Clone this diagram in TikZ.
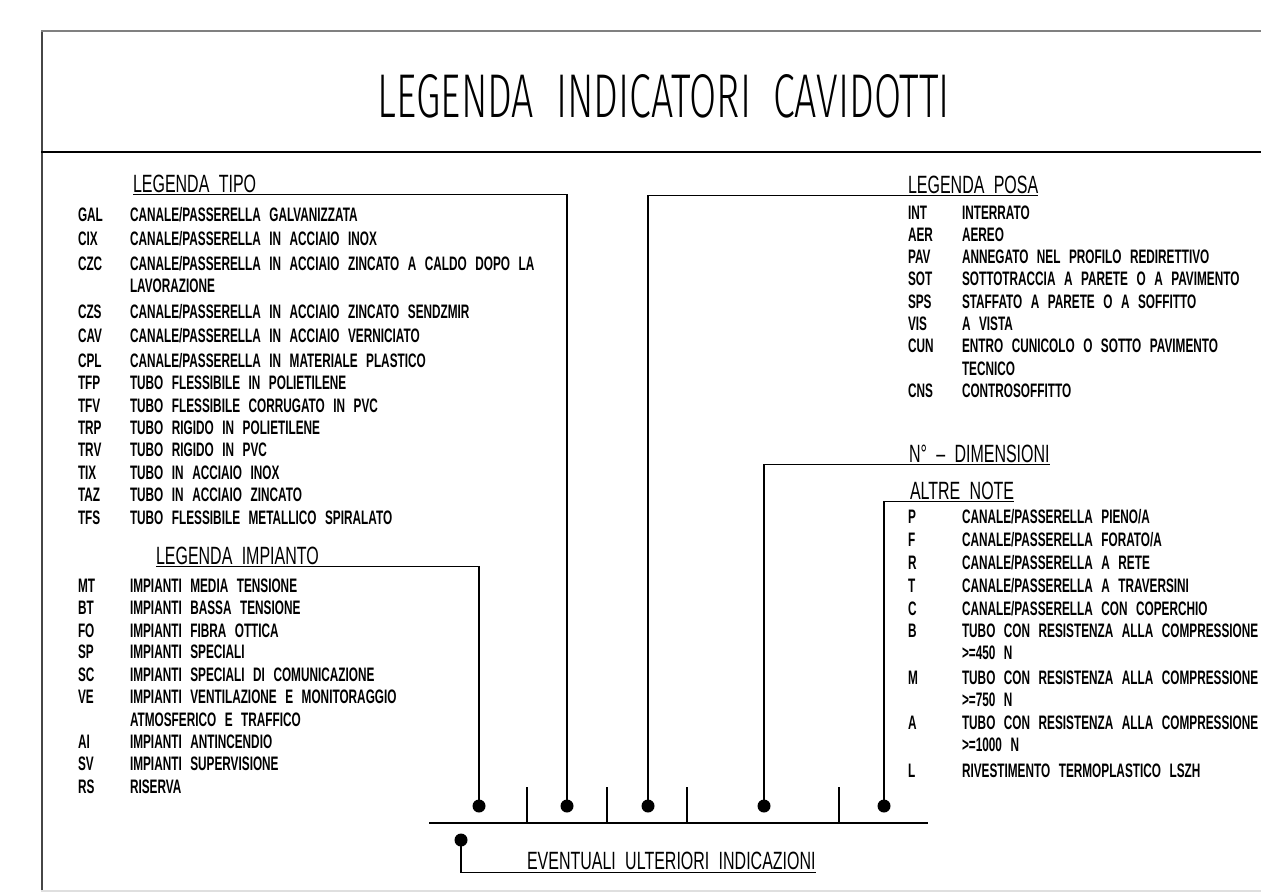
\documentclass[tikz,border=0pt]{standalone}
\usepackage{fontspec}
\usepackage{graphicx}
\setmainfont{Liberation Sans}
\newfontfamily\cadbody[FakeStretch=0.605,WordSpace=2.6]{Liberation Sans}
\newfontfamily\cadhead[FakeStretch=0.64,WordSpace=2.1]{Liberation Sans}
\newfontfamily\cadtitle{Fira Sans Light}

\tikzset{
  txt/.style={anchor=base west, inner sep=0pt, outer sep=0pt, font=\cadbody\fontsize{19.5}{23}\selectfont\bfseries},
  head/.style={anchor=base west, inner sep=0pt, outer sep=0pt, font=\cadhead\fontsize{25}{30}\selectfont},
  conn/.style={line width=1.6pt, black},
  dotnode/.style={circle, fill=black, draw=none, inner sep=0pt, minimum size=13pt},
  tick/.style={line width=1.4pt, black},
  baseline/.style={line width=1.8pt, black},
}
\newcommand\rowL[4]{\node[txt] (#1c) at (78,#2) {#3}; \node[txt] (#1d) at (130,#2) {#4};}
\newcommand\rowR[4]{\node[txt] (#1c) at (908,#2) {#3}; \node[txt] (#1d) at (962,#2) {#4};}

\begin{document}
\begin{tikzpicture}[x=1pt,y=-1pt]
\useasboundingbox (0,0) rectangle (1261,892);
\fill[white] (0,0) rectangle (1261,892);

% frame
\draw[line width=2pt, gray!55!black] (41.5,31) -- (41.5,892);
\draw[line width=2pt, gray] (41,31) -- (1261,31);
\draw[line width=2.6pt, black] (41,152) -- (1261,152);
\draw[line width=2pt, gray!25] (41,891) -- (1261,891);

% title
\node[inner sep=0pt] (title) at (664,96.5) {\resizebox{572pt}{43pt}{\cadtitle LEGENDA\ \ INDICATORI\ \ CAVIDOTTI}};

% LEGENDA TIPO
\node[head] (tipo) at (133,192) {LEGENDA TIPO};
\rowL{gal}{221}{GAL}{CANALE/PASSERELLA GALVANIZZATA}
\rowL{cix}{245}{CIX}{CANALE/PASSERELLA IN ACCIAIO INOX}
\rowL{czc}{270}{CZC}{CANALE/PASSERELLA IN ACCIAIO ZINCATO A CALDO DOPO LA}
\node[txt] (lav) at (130,292) {LAVORAZIONE};
\rowL{czs}{318}{CZS}{CANALE/PASSERELLA IN ACCIAIO ZINCATO SENDZMIR}
\rowL{cav}{342}{CAV}{CANALE/PASSERELLA IN ACCIAIO VERNICIATO}
\rowL{cpl}{367}{CPL}{CANALE/PASSERELLA IN MATERIALE PLASTICO}
\rowL{tfp}{389}{TFP}{TUBO FLESSIBILE IN POLIETILENE}
\rowL{tfv}{412}{TFV}{TUBO FLESSIBILE CORRUGATO IN PVC}
\rowL{trp}{434}{TRP}{TUBO RIGIDO IN POLIETILENE}
\rowL{trv}{456}{TRV}{TUBO RIGIDO IN PVC}
\rowL{tix}{479}{TIX}{TUBO IN ACCIAIO INOX}
\rowL{taz}{501}{TAZ}{TUBO IN ACCIAIO ZINCATO}
\rowL{tfs}{524}{TFS}{TUBO FLESSIBILE METALLICO SPIRALATO}

% LEGENDA IMPIANTO
\node[head] (imp) at (156,564) {LEGENDA IMPIANTO};
\rowL{mt}{592}{MT}{IMPIANTI MEDIA TENSIONE}
\rowL{bt}{614}{BT}{IMPIANTI BASSA TENSIONE}
\rowL{fo}{637}{FO}{IMPIANTI FIBRA OTTICA}
\rowL{sp}{658}{SP}{IMPIANTI SPECIALI}
\rowL{sc}{681}{SC}{IMPIANTI SPECIALI DI COMUNICAZIONE}
\rowL{ve}{703}{VE}{IMPIANTI VENTILAZIONE E MONITORAGGIO}
\node[txt] (atm) at (130,726) {ATMOSFERICO E TRAFFICO};
\rowL{ai}{748}{AI}{IMPIANTI ANTINCENDIO}
\rowL{sv}{770}{SV}{IMPIANTI SUPERVISIONE}
\rowL{rs}{793}{RS}{RISERVA}

% LEGENDA POSA
\node[head] (posa) at (908,193) {LEGENDA POSA};
\rowR{int}{219}{INT}{INTERRATO}
\rowR{aer}{241}{AER}{AEREO}
\rowR{pav}{263}{PAV}{ANNEGATO NEL PROFILO REDIRETTIVO}
\rowR{sot}{285}{SOT}{SOTTOTRACCIA A PARETE O A PAVIMENTO}
\rowR{sps}{308}{SPS}{STAFFATO A PARETE O A SOFFITTO}
\rowR{vis}{330}{VIS}{A VISTA}
\rowR{cun}{352}{CUN}{ENTRO CUNICOLO O SOTTO PAVIMENTO}
\node[txt] (tec) at (962,375) {TECNICO};
\rowR{cns}{397}{CNS}{CONTROSOFFITTO}

% N DIMENSIONI
\node[head] (dim) at (909,462) {N° – DIMENSIONI};

% ALTRE NOTE
\node[head] (note) at (910,499) {ALTRE NOTE};
\rowR{p}{523}{P}{CANALE/PASSERELLA PIENO/A}
\rowR{f}{546}{F}{CANALE/PASSERELLA FORATO/A}
\rowR{r}{569}{R}{CANALE/PASSERELLA A RETE}
\rowR{t}{592}{T}{CANALE/PASSERELLA A TRAVERSINI}
\rowR{c}{615}{C}{CANALE/PASSERELLA CON COPERCHIO}
\rowR{b}{637}{B}{TUBO CON RESISTENZA ALLA COMPRESSIONE}
\node[txt] (b2) at (962,659) {>=450 N};
\rowR{m}{684}{M}{TUBO CON RESISTENZA ALLA COMPRESSIONE}
\node[txt] (m2) at (962,706) {>=750 N};
\rowR{a}{729}{A}{TUBO CON RESISTENZA ALLA COMPRESSIONE}
\node[txt] (a2) at (962,751) {>=1000 N};
\rowR{l}{777}{L}{RIVESTIMENTO TERMOPLASTICO LSZH}

% code bar
\coordinate (barL) at (429,823);
\coordinate (barR) at (928,823);
\draw[baseline] (barL) -- (barR);
\foreach \tx in {527,607,687,839} \draw[tick] (\tx,787) -- (\tx,823);

\node[dotnode] (dimp) at (479,806) {};
\node[dotnode] (dtipo) at (567,806) {};
\node[dotnode] (dposa) at (648,806) {};
\node[dotnode] (ddim) at (764,806) {};
\node[dotnode] (dnote) at (884,806) {};
\node[dotnode] (devt) at (461,840) {};

% bottom heading
\node[head] (evt) at (527,869) {EVENTUALI ULTERIORI INDICAZIONI};

% connectors
\draw[conn] ([yshift=-2.5pt]tipo.base west) -| (dtipo.center);
\draw[conn] ([yshift=-2.5pt]imp.base west) -| (dimp.center);
\draw[conn] (dposa.center) |- ([yshift=-2.5pt]posa.base east);
\draw[conn] (ddim.center) |- ([yshift=-2.5pt]dim.base east);
\draw[conn] (dnote.center) |- ([yshift=-2.5pt]note.base east);
\draw[conn] (devt.center) |- ([yshift=-3.5pt]evt.base east);
\end{tikzpicture}
\end{document}
